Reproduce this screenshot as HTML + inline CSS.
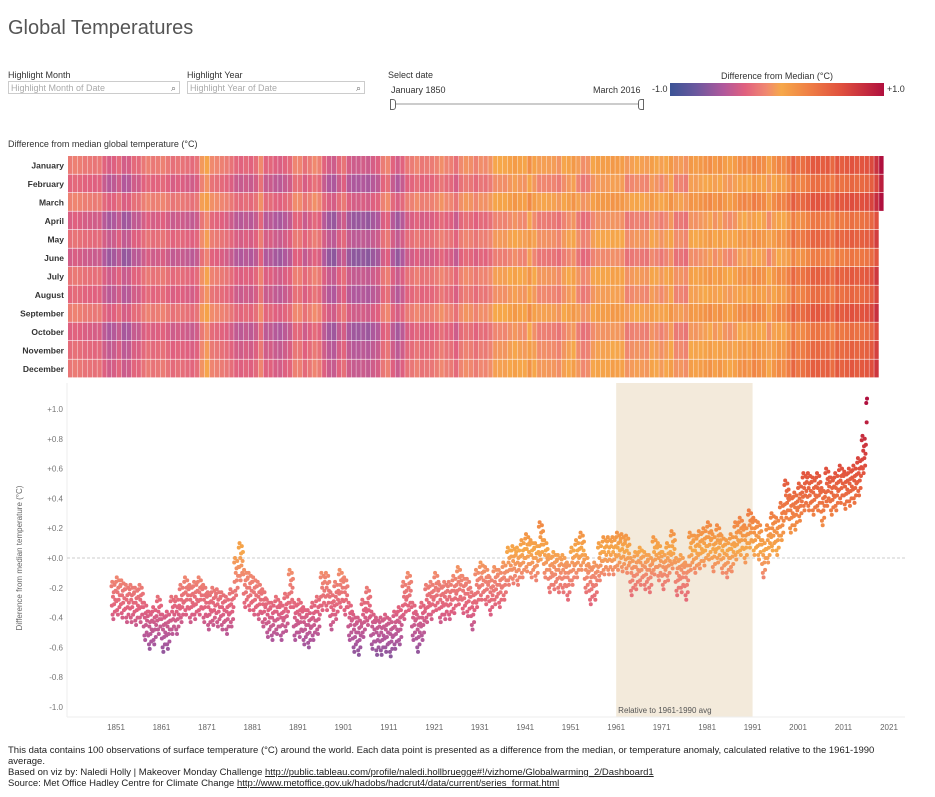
<!DOCTYPE html>
<html><head><meta charset="utf-8">
<style>
body{margin:0;background:#fff;font-family:"Liberation Sans",sans-serif;color:#333;width:935px;height:797px;overflow:hidden;position:relative}
.abs{position:absolute}
.lbl{font-size:9px;color:#333}
.inp{border:1px solid #ccc;height:13px;font-size:9px;color:#aaa;line-height:13px;padding-left:2px;box-sizing:border-box}
.foot{font-size:9.5px;color:#222;line-height:11px}
.foot a{color:#222;text-decoration:underline}
</style></head><body>
<div class="abs" style="left:8px;top:17px;font-size:20px;color:#555">Global Temperatures</div>

<div class="abs lbl" style="left:8px;top:70px">Highlight Month</div>
<div class="abs inp" style="left:8px;top:81px;width:172px">Highlight Month of Date<span style="position:absolute;right:3px;color:#666">⌕</span></div>
<div class="abs lbl" style="left:187px;top:70px">Highlight Year</div>
<div class="abs inp" style="left:187px;top:81px;width:178px">Highlight Year of Date<span style="position:absolute;right:3px;color:#666">⌕</span></div>

<div class="abs lbl" style="left:388px;top:70px">Select date</div>
<div class="abs lbl" style="left:391px;top:85px">January 1850</div>
<div class="abs lbl" style="left:593px;top:85px">March 2016</div>
<div class="abs" style="left:393px;top:103px;width:248px;height:2px;background:#ccc"></div>
<div class="abs" style="left:390px;top:99px;width:4px;height:9px;border:1px solid #666;border-radius:0 3px 3px 0;background:#fff"></div>
<div class="abs" style="left:638px;top:99px;width:4px;height:9px;border:1px solid #666;border-radius:3px 0 0 3px;background:#fff"></div>

<div class="abs lbl" style="left:670px;top:71px;width:214px;text-align:center">Difference from Median (°C)</div>
<div class="abs lbl" style="left:652px;top:84px">-1.0</div>
<div class="abs" style="left:670px;top:83px;width:214px;height:13px;background:linear-gradient(to right,#3b5496,#6a589e 12%,#b0589c 25%,#e0607f 35%,#f08870 45%,#f6a84a 52%,#ef7f45 65%,#e0503e 80%,#b0103e)"></div>
<div class="abs lbl" style="left:887px;top:84px">+1.0</div>

<div class="abs lbl" style="left:8px;top:139px">Difference from median global temperature (°C)</div>

<svg class="abs" style="left:0;top:150px" width="935" height="590" id="svg"></svg>

<div class="abs foot" style="left:8px;top:745px;width:895px">This data contains 100 observations of surface temperature (°C) around the world. Each data point is presented as a difference from the median, or temperature anomaly, calculated relative to the 1961-1990 average.<br>Based on viz by: Naledi Holly | Makeover Monday Challenge <a>http://public.tableau.com/profile/naledi.hollbruegge#!/vizhome/Globalwarming_2/Dashboard1</a><br>Source: Met Office Hadley Centre for Climate Change <a>http://www.metoffice.gov.uk/hadobs/hadcrut4/data/current/series_format.html</a></div>

<script>
const months=["January","February","March","April","May","June","July","August","September","October","November","December"];
const startYear=1850;
const annual=[-0.28,-0.25,-0.27,-0.3,-0.3,-0.32,-0.3,-0.42,-0.48,-0.45,
-0.38,-0.5,-0.48,-0.38,-0.38,-0.3,-0.25,-0.3,-0.28,-0.25,
-0.3,-0.35,-0.32,-0.33,-0.35,-0.38,-0.33,-0.12,-0.02,-0.2,
-0.22,-0.25,-0.28,-0.33,-0.4,-0.42,-0.38,-0.42,-0.36,-0.2,
-0.42,-0.4,-0.45,-0.47,-0.42,-0.38,-0.22,-0.22,-0.35,-0.28,
-0.2,-0.25,-0.42,-0.5,-0.52,-0.4,-0.32,-0.48,-0.52,-0.52,
-0.5,-0.53,-0.48,-0.45,-0.28,-0.22,-0.42,-0.5,-0.42,-0.3,
-0.28,-0.22,-0.3,-0.28,-0.28,-0.24,-0.18,-0.24,-0.26,-0.35,
-0.2,-0.15,-0.18,-0.25,-0.18,-0.2,-0.15,-0.05,-0.04,-0.05,
0.0,0.04,0.0,-0.02,0.12,0.0,-0.1,-0.08,-0.1,-0.1,
-0.15,-0.05,0.0,0.05,-0.1,-0.18,-0.15,-0.02,0.02,0.02,
0.02,0.05,0.04,0.03,-0.12,-0.08,-0.05,-0.08,-0.1,0.02,
-0.02,-0.08,-0.02,0.06,-0.12,-0.1,-0.15,0.05,0.03,0.06,
0.08,0.12,0.04,0.1,0.03,0.0,0.04,0.12,0.15,0.1,
0.2,0.15,0.12,0.0,0.1,0.18,0.15,0.25,0.4,0.3,
0.32,0.38,0.45,0.45,0.42,0.45,0.35,0.48,0.42,0.45,
0.5,0.46,0.48,0.5,0.55,0.7,0.95];
const monthOffset=[0.09,-0.04,0.12,-0.1,0.02,-0.13,0.05,-0.03,0.1,-0.08,0.0,0.06];
const yTicks=[1.0,0.8,0.6,0.4,0.2,0.0,-0.2,-0.4,-0.6,-0.8,-1.0];
const xTicks=[1851,1861,1871,1881,1891,1901,1911,1921,1931,1941,1951,1961,1971,1981,1991,2001,2011,2021];
const lastYearMonths=3;

const svg=document.getElementById('svg');
const NS="http://www.w3.org/2000/svg";
function mk(t,a,p){const e=document.createElementNS(NS,t);for(const k in a)e.setAttribute(k,a[k]);(p||svg).appendChild(e);return e;}
const stops=[[-1,[59,84,150]],[-0.75,[106,88,158]],[-0.55,[176,88,156]],[-0.35,[224,96,127]],[-0.12,[240,136,112]],[0.05,[246,168,74]],[0.3,[239,127,69]],[0.6,[224,80,62]],[1,[176,16,62]]];
function col(v){v=Math.max(-1,Math.min(1,v));for(let i=0;i<stops.length-1;i++){const a=stops[i],b=stops[i+1];if(v<=b[0]){const t=(v-a[0])/(b[0]-a[0]);const c=a[1].map((x,j)=>Math.round(x+(b[1][j]-x)*t));return `rgb(${c})`;}}return 'rgb(176,16,62)';}
function val(y,m){return annual[y]+monthOffset[m];}

const hx0=68,hx1=884,hy0=6,hy1=228;
const nY=annual.length,cw=(hx1-hx0)/nY,rh=(hy1-hy0)/12;
const hx=i=>hx0+i*cw, hy=m=>hy0+m*rh;
months.forEach((mn,m)=>{
  const t=mk('text',{x:64,y:hy(m)+rh/2+3,'text-anchor':'end','font-size':8.5,'font-weight':'bold',fill:'#333'});t.textContent=mn;
  
  
});
for(let i=0;i<nY;i++){for(let m=0;m<12;m++){
  if(i===nY-1&&m>=lastYearMonths)continue;
  const r=mk('rect',{x:hx(i),y:hy(m),width:cw-0.4,height:rh-0.6,fill:col(val(i,m))});
  
  
}}

const sx=yr=>116+(yr-1851)*(773/170);
const sy=v=>408-(v*149);
const band=mk('rect',{x:sx(1961),y:233,width:sx(1991)-sx(1961),height:334,fill:'#f3eadb'});


const bl=mk('text',{x:sx(1961)+2,y:563,'font-size':8,fill:'#555'});bl.textContent='Relative to 1961-1990 avg';


mk('line',{x1:67,y1:233,x2:67,y2:567,stroke:'#eee'});
mk('line',{x1:67,y1:567,x2:905,y2:567,stroke:'#eee'});
const zl=mk('line',{x1:67,y1:sy(0),x2:905,y2:sy(0),stroke:'#ccc','stroke-dasharray':'3,2'});


yTicks.forEach(v=>{const t=mk('text',{x:63,y:sy(v)+3,'text-anchor':'end','font-size':8,fill:'#777'});t.textContent=(v>=0?'+':'')+v.toFixed(1).replace('-0.0','0.0');
  
  });
xTicks.forEach(v=>{const t=mk('text',{x:sx(v),y:580,'text-anchor':'middle','font-size':8,fill:'#666'});t.textContent=v;
  
  });
const yt=mk('text',{transform:'translate(22,408) rotate(-90)','text-anchor':'middle','font-size':8,fill:'#666'});yt.textContent='Difference from median temperature (°C)';


for(let i=0;i<nY;i++){for(let m=0;m<12;m++){
  if(i===nY-1&&m>=lastYearMonths)continue;
  const v=val(i,m);
  const c=mk('circle',{cx:sx(startYear+i+m/12),cy:sy(v),r:2,fill:col(v)});
  
  
}}
</script>
</body></html>
